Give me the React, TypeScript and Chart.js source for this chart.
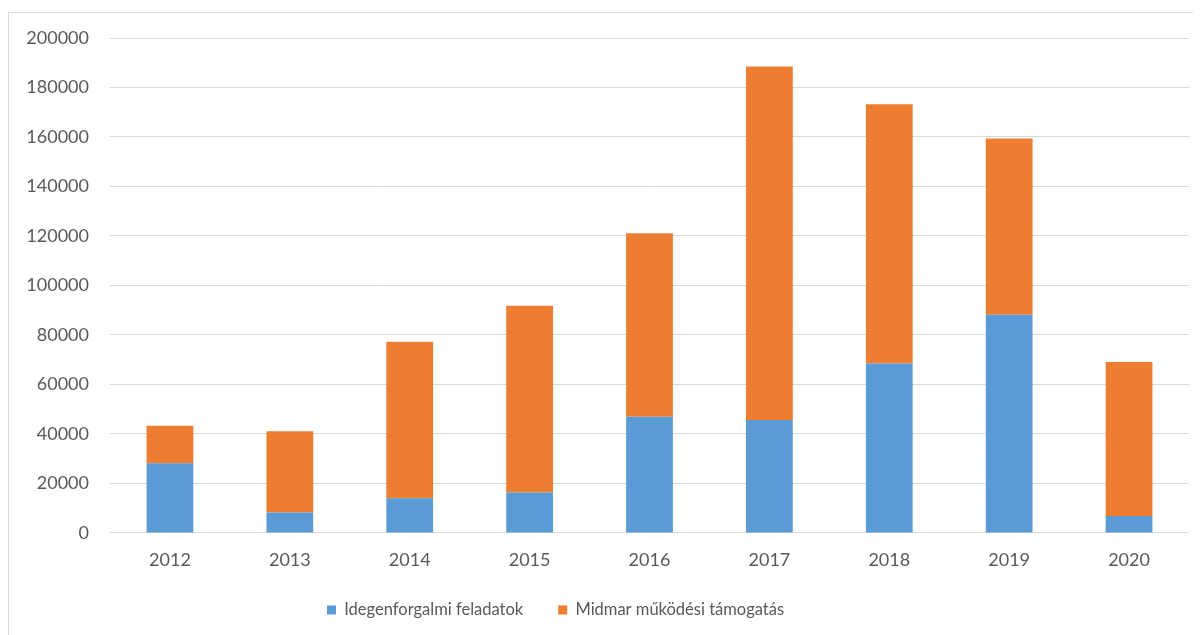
import React, { useEffect, useRef } from "react";
import { Chart, registerables } from "chart.js";

Chart.register(...registerables);

const years = ["2012", "2013", "2014", "2015", "2016", "2017", "2018", "2019", "2020"];
const idegenforgalmi = [28100, 8200, 14000, 16300, 46900, 45600, 68500, 88200, 6800];
const midmar = [15200, 32900, 63200, 75500, 74200, 142900, 104700, 71200, 62300];
const seriesNames = ["Idegenforgalmi feladatok", "Midmar működési támogatás"];
const yMin = 0;
const yMax = 200000;
const yStep = 20000;

const FONT = "Lato, 'Open Sans', sans-serif";
const TEXT = "#595959";
const GRID = "#d9d9d9";
const LEGEND_SIZE = 16.5;

const legendShift = {
  id: "legendShift",
  afterLayout(chart: any) {
    const l = chart.legend;
    if (!l) return;
    const pad = l.options.labels.padding;
    const w = l.right - l.left;
    l.left = 318 - pad;
    l.right = l.left + w;
    l.top = 597 - pad - LEGEND_SIZE / 2;
    l.height = 80;
    l.bottom = l.top + l.height;
  },
};

export default function App() {
  const ref = useRef<HTMLCanvasElement | null>(null);

  useEffect(() => {
    if (!ref.current) return;
    const chart = new Chart(ref.current, {
      type: "bar",
      data: {
        labels: years,
        datasets: [
          {
            label: seriesNames[0],
            data: idegenforgalmi,
            backgroundColor: "#5B9BD5",
            borderWidth: 0,
          },
          {
            label: seriesNames[1],
            data: midmar,
            backgroundColor: "#ED7D31",
            borderWidth: 0,
          },
        ],
      },
      options: {
        responsive: false,
        animation: false,
        layout: { padding: { top: 25, right: 12, bottom: 3, left: 0 } },
        datasets: { bar: { categoryPercentage: 1, barPercentage: 0.39 } } as any,
        scales: {
          x: {
            stacked: true,
            grid: { display: false, drawTicks: false },
            border: { display: false },
            ticks: { color: TEXT, font: { family: FONT, size: 18 }, padding: 16 },
          },
          y: {
            stacked: true,
            min: yMin,
            max: yMax,
            ticks: {
              stepSize: yStep,
              color: TEXT,
              font: { family: FONT, size: 18 },
              padding: 21,
              callback: (v: any) => String(v),
            },
            grid: { color: GRID, lineWidth: 1, drawTicks: false },
            border: { display: false },
            afterFit: (s: any) => {
              s.width = 101;
              s.paddingTop = 11;
              s.paddingBottom = 11;
            },
          },
        },
        plugins: {
          legend: {
            position: "bottom",
            align: "start",
            maxHeight: 45.5,
            labels: {
              color: TEXT,
              font: { family: FONT, size: LEGEND_SIZE },
              boxWidth: 9,
              boxHeight: 9,
              padding: 35,
            },
          },
          tooltip: { enabled: false },
        },
      },
      plugins: [legendShift],
    });
    return () => chart.destroy();
  }, []);

  return (
    <div
      style={{
        marginTop: 4,
        width: 1193,
        height: 623,
        borderTop: "1px solid #d9d9d9",
        borderLeft: "1px solid #d9d9d9",
        overflow: "hidden",
      }}
    >
      <canvas ref={ref} width={1192} height={622} style={{ display: "block" }} />
    </div>
  );
}
